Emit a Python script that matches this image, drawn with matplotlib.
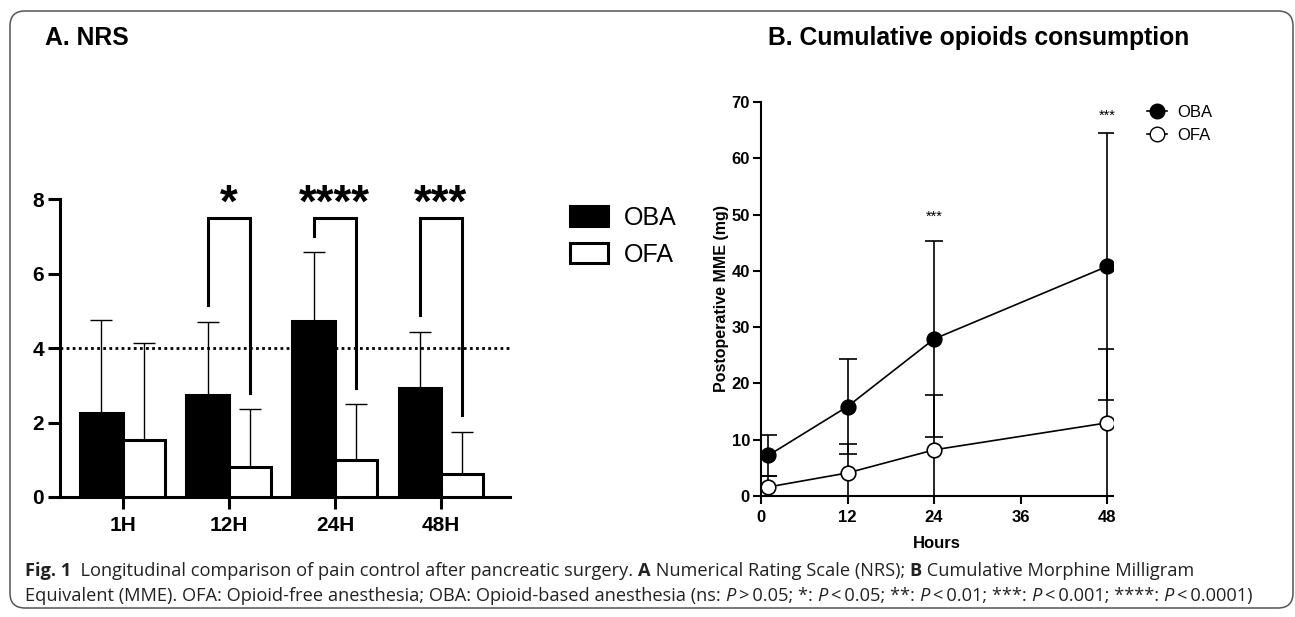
import numpy as np
import matplotlib
matplotlib.use('Agg')
import matplotlib.pyplot as plt
import matplotlib.patches as mpatches
from matplotlib.lines import Line2D
from matplotlib.transforms import IdentityTransform

# ---- data: panel A (NRS) ----
nrs_times = ['1H', '12H', '24H', '48H']
nrs_oba = [2.25, 2.74, 4.72, 2.92]
nrs_oba_sd = [2.49, 1.96, 1.85, 1.52]
nrs_ofa = [1.53, 0.80, 0.98, 0.62]
nrs_ofa_sd = [2.60, 1.56, 1.51, 1.13]
nrs_threshold = 4
# significance brackets: group index, left leg bottom, right leg bottom, top, label
sig_groups = [1, 2, 3]
sig_left = [5.15, 7.0, 4.88]
sig_right = [2.8, 2.92, 2.2]
sig_top = 7.5
sig_labels = ['*', '****', '***']

# ---- data: panel B (cumulative MME) ----
mme_hours = [1, 12, 24, 48]
mme_oba = [7.2, 15.9, 27.9, 40.8]
mme_oba_sd = [3.6, 8.4, 17.4, 23.7]
mme_ofa = [1.6, 4.1, 8.2, 13.0]
mme_ofa_sd = [1.9, 5.2, 9.7, 13.1]
mme_star_x = [24, 48]
mme_star_y = [48.9, 66.8]

W, H = 1295, 617
fig = plt.figure(figsize=(W / 100, H / 100), dpi=100)
fig.patch.set_facecolor('white')

SANS = ['Liberation Sans', 'DejaVu Sans']

# rounded frame
frame = mpatches.FancyBboxPatch((10, H - 608), 1283, 597,
                                boxstyle='round,pad=0,rounding_size=15',
                                transform=IdentityTransform(),
                                facecolor='none', edgecolor='#555555', lw=1.1)
fig.add_artist(frame)

# panel titles
fig.text(45 / W, 1 - 45 / H, 'A. NRS', family=SANS, fontweight='bold',
         fontsize=17.8, va='baseline', ha='left')
fig.text(768 / W, 1 - 45 / H, 'B. Cumulative opioids consumption', family=SANS,
         fontweight='bold', fontsize=17.8, va='baseline', ha='left')

# ================= Panel A =================
axA = fig.add_axes([60 / W, 1 - 497 / H, 450 / W, 298 / H])
x = np.arange(len(nrs_times))
bw = 0.4
axA.bar(x - bw / 2, nrs_oba, bw, color='black', edgecolor='black', lw=2.2, zorder=3)
axA.bar(x + bw / 2, nrs_ofa, bw, color='white', edgecolor='black', lw=2.2, zorder=3)
axA.errorbar(x - bw / 2, nrs_oba, yerr=[np.zeros(4), nrs_oba_sd], fmt='none',
             ecolor='black', elinewidth=1.0, capsize=8, capthick=1.0, zorder=2)
axA.errorbar(x + bw / 2, nrs_ofa, yerr=[np.zeros(4), nrs_ofa_sd], fmt='none',
             ecolor='black', elinewidth=1.0, capsize=8, capthick=1.0, zorder=2)
axA.axhline(nrs_threshold, color='black', lw=2.0, ls=(0, (1, 1.2)), zorder=1)

for g, yl, yr, lab in zip(sig_groups, sig_left, sig_right, sig_labels):
    xl, xr = g - bw / 2, g + bw / 2
    axA.plot([xl, xl, xr, xr], [yl, sig_top, sig_top, yr], color='black',
             lw=2.2, clip_on=False, solid_joinstyle='miter', zorder=4)
    axA.text(g, 7.52, lab, ha='center', va='baseline', family=SANS,
             fontweight='bold', fontsize=33, clip_on=False)

axA.set_xlim(-0.59, 3.65)
axA.set_ylim(0, 8)
axA.set_yticks([0, 2, 4, 6, 8])
axA.set_xticks(x)
axA.set_xticklabels(nrs_times)
for s in ['top', 'right']:
    axA.spines[s].set_visible(False)
for s in ['left', 'bottom']:
    axA.spines[s].set_linewidth(2.2)
axA.tick_params(axis='both', width=2.2, length=8.6, color='black')
axA.tick_params(axis='y', pad=3)
axA.tick_params(axis='x', pad=5)
for lbl in axA.get_xticklabels() + axA.get_yticklabels():
    lbl.set_family(SANS)
    lbl.set_fontweight('bold')
    lbl.set_fontsize(15)

hA = [mpatches.Patch(facecolor='black', edgecolor='black', lw=2.2),
      mpatches.Patch(facecolor='white', edgecolor='black', lw=2.2)]
axA.legend(hA, ['OBA', 'OFA'], loc='upper left', bbox_to_anchor=(570 / W, 1 - 206 / H),
           bbox_transform=fig.transFigure, frameon=False, borderpad=0,
           borderaxespad=0, handlelength=1.5, handleheight=0.85, handletextpad=0.65,
           labelspacing=0.5, prop={'family': SANS, 'size': 18})

# ================= Panel B =================
axB = fig.add_axes([761 / W, 1 - 496 / H, 352 / W, 394 / H])
axB.errorbar(mme_hours, mme_oba, yerr=mme_oba_sd, fmt='-o', color='black',
             lw=1.2, elinewidth=1.2, capsize=6.5, capthick=1.2, ms=10.5,
             mfc='black', mec='black', mew=1.2, zorder=3)
axB.errorbar(mme_hours, mme_ofa, yerr=mme_ofa_sd, fmt='-o', color='black',
             lw=1.2, elinewidth=1.2, capsize=6.5, capthick=1.2, ms=10.5,
             mfc='white', mec='black', mew=1.2, zorder=4)
for sx, sy in zip(mme_star_x, mme_star_y):
    axB.text(sx, sy, '***', ha='center', va='baseline', family=SANS, fontsize=10.5)

axB.set_xlim(0, 48.8)
axB.set_ylim(0, 70)
axB.set_xticks([0, 12, 24, 36, 48])
axB.set_yticks(np.arange(0, 71, 10))
for s in ['top', 'right']:
    axB.spines[s].set_visible(False)
for s in ['left', 'bottom']:
    axB.spines[s].set_linewidth(1.5)
axB.tick_params(axis='both', width=1.5, length=6, color='black')
axB.tick_params(axis='y', pad=2)
axB.tick_params(axis='x', pad=4)
for lbl in axB.get_xticklabels() + axB.get_yticklabels():
    lbl.set_family(SANS)
    lbl.set_fontweight('bold')
    lbl.set_fontsize(12)
axB.set_ylabel('Postoperative MME (mg)', family=SANS, fontweight='bold',
               fontsize=11.5, labelpad=2)
axB.set_xlabel('Hours', family=SANS, fontweight='bold', fontsize=12, labelpad=8)

hB = [Line2D([], [], color='black', lw=1.2, marker='o', ms=10.5, mfc='black', mec='black'),
      Line2D([], [], color='black', lw=1.2, marker='o', ms=10.5, mfc='white', mec='black')]
axB.legend(hB, ['OBA', 'OFA'], loc='upper left', bbox_to_anchor=(1147 / W, 1 - 105 / H),
           bbox_transform=fig.transFigure, frameon=False, borderpad=0,
           borderaxespad=0, handlelength=1.2, handletextpad=0.6,
           labelspacing=0.5, prop={'family': SANS, 'size': 12})

# ================= Caption =================
CAP = ['Open Sans', 'DejaVu Sans']
TS = '\u2009'
line1 = [('Fig. 1', 'bold', 'normal'),
         ('  Longitudinal comparison of pain control after pancreatic surgery. ', 'normal', 'normal'),
         ('A', 'bold', 'normal'),
         (' Numerical Rating Scale (NRS); ', 'normal', 'normal'),
         ('B', 'bold', 'normal'),
         (' Cumulative Morphine Milligram', 'normal', 'normal')]
line2 = [('Equivalent (MME). OFA: Opioid-free anesthesia; OBA: Opioid-based anesthesia (ns: ', 'normal', 'normal'),
         ('P', 'normal', 'italic'), (TS + '>' + TS + '0.05; *: ', 'normal', 'normal'),
         ('P', 'normal', 'italic'), (TS + '<' + TS + '0.05; **: ', 'normal', 'normal'),
         ('P', 'normal', 'italic'), (TS + '<' + TS + '0.01; ***: ', 'normal', 'normal'),
         ('P', 'normal', 'italic'), (TS + '<' + TS + '0.001; ****: ', 'normal', 'normal'),
         ('P', 'normal', 'italic'), (TS + '<' + TS + '0.0001)', 'normal', 'normal')]

renderer = fig.canvas.get_renderer()


def put_line(pieces, x0, ybase, size):
    xpos = x0
    for s, wt, st in pieces:
        t = fig.text(xpos / W, 1 - ybase / H, s, family=CAP, fontweight=wt,
                     fontstyle=st, fontsize=size, va='baseline', ha='left',
                     color='#222222')
        xpos += t.get_window_extent(renderer).width
    return xpos


def line_width(pieces, size):
    total = 0
    for s, wt, st in pieces:
        t = fig.text(0, 0, s, family=CAP, fontweight=wt, fontstyle=st, fontsize=size)
        total += t.get_window_extent(renderer).width
        t.remove()
    return total


cap_size = 10.5 * 1176 / line_width(line1, 10.5)
put_line(line1, 25, 576, cap_size)
put_line(line2, 25, 601, cap_size)

fig.savefig('out.png', dpi=100, facecolor='white')
